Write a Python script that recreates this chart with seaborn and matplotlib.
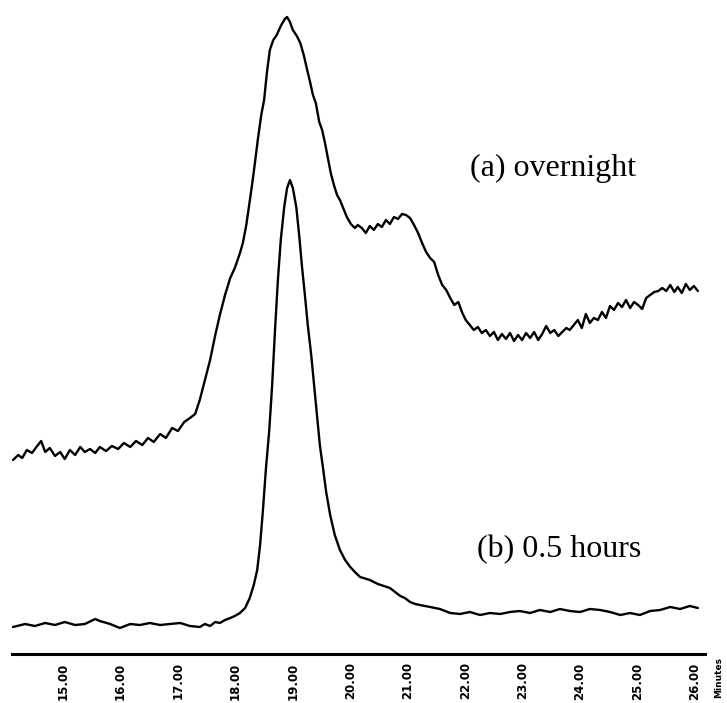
import numpy as np
import pandas as pd
import seaborn as sns
import matplotlib
matplotlib.use("Agg")
import matplotlib.pyplot as plt

# retention time (min) and detector signal (arbitrary units)
tiempo_a = [14.13, 14.22, 14.29, 14.37, 14.46, 14.55, 14.62, 14.69, 14.77, 14.86,
            14.95, 15.03, 15.12, 15.21, 15.30, 15.38, 15.47, 15.56, 15.64, 15.75,
            15.85, 15.96, 16.06, 16.17, 16.27, 16.38, 16.48, 16.58, 16.69, 16.79,
            16.90, 17.00, 17.11, 17.21, 17.30, 17.38, 17.47, 17.56, 17.65, 17.73,
            17.82, 17.91, 17.99, 18.08, 18.13, 18.19, 18.24, 18.29, 18.34, 18.39,
            18.45, 18.50, 18.55, 18.60, 18.66, 18.72, 18.79, 18.86, 18.90, 18.95,
            19.00, 19.07, 19.13, 19.19, 19.25, 19.30, 19.35, 19.40, 19.46, 19.51,
            19.56, 19.61, 19.66, 19.72, 19.77, 19.82, 19.89, 19.94, 20.01, 20.08,
            20.13, 20.20, 20.27, 20.34, 20.41, 20.48, 20.55, 20.62, 20.69, 20.76,
            20.83, 20.90, 20.97, 21.04, 21.11, 21.18, 21.25, 21.32, 21.39, 21.46,
            21.53, 21.60, 21.67, 21.74, 21.81, 21.88, 21.95, 22.01, 22.08, 22.15,
            22.22, 22.29, 22.36, 22.43, 22.50, 22.57, 22.64, 22.71, 22.78, 22.85,
            22.92, 22.99, 23.06, 23.13, 23.20, 23.27, 23.34, 23.41, 23.48, 23.55,
            23.62, 23.69, 23.76, 23.82, 23.89, 23.96, 24.03, 24.10, 24.17, 24.24,
            24.31, 24.38, 24.45, 24.52, 24.59, 24.66, 24.73, 24.80, 24.87, 24.94,
            25.01, 25.08, 25.15, 25.22, 25.29, 25.36, 25.43, 25.50, 25.57, 25.64,
            25.70, 25.77, 25.84, 25.91, 25.98, 26.05]
senal_a = [19.4, 19.9, 19.6, 20.4, 20.1, 20.8, 21.3, 20.2, 20.6, 19.8,
           20.2, 19.5, 20.4, 19.9, 20.7, 20.2, 20.5, 20.1, 20.7, 20.3,
           20.8, 20.5, 21.1, 20.7, 21.3, 20.9, 21.6, 21.2, 22.0, 21.6,
           22.6, 22.3, 23.2, 23.6, 24.0, 25.4, 27.4, 29.4, 31.9, 33.9,
           35.9, 37.6, 38.6, 40.1, 41.1, 42.9, 44.9, 46.9, 49.1, 51.4,
           53.9, 55.4, 58.2, 60.4, 61.4, 61.9, 62.8, 63.5, 63.7, 63.2,
           62.4, 61.8, 61.1, 59.9, 58.4, 57.2, 55.9, 55.1, 53.2, 52.4,
           51.1, 49.6, 48.1, 46.8, 45.9, 45.4, 44.4, 43.7, 43.0, 42.6,
           42.9, 42.6, 42.1, 42.8, 42.4, 43.0, 42.7, 43.4, 43.0, 43.7,
           43.5, 44.0, 43.9, 43.6, 42.9, 42.1, 41.1, 40.2, 39.6, 39.2,
           37.9, 36.9, 36.4, 35.6, 34.9, 35.2, 34.1, 33.4, 32.9, 32.4,
           32.7, 32.1, 32.4, 31.8, 32.2, 31.4, 32.0, 31.5, 32.1, 31.3,
           31.9, 31.4, 32.1, 31.6, 32.2, 31.4, 32.0, 32.8, 32.1, 32.4,
           31.8, 32.2, 32.6, 32.4, 32.9, 33.4, 32.6, 34.0, 33.1, 33.6,
           33.4, 34.2, 33.6, 34.8, 34.4, 35.1, 34.7, 35.4, 34.6, 35.2,
           34.9, 34.5, 35.6, 35.9, 36.2, 36.3, 36.6, 36.3, 36.9, 36.2,
           36.7, 36.1, 37.0, 36.4, 36.8, 36.3]

tiempo_b = [14.13, 14.34, 14.51, 14.69, 14.86, 15.03, 15.21, 15.38, 15.56, 15.64,
            15.82, 15.99, 16.17, 16.34, 16.51, 16.69, 16.86, 17.04, 17.21, 17.38,
            17.47, 17.56, 17.65, 17.73, 17.82, 17.91, 17.99, 18.08, 18.17, 18.25,
            18.32, 18.38, 18.43, 18.48, 18.53, 18.59, 18.64, 18.69, 18.74, 18.79,
            18.85, 18.90, 18.95, 19.00, 19.06, 19.11, 19.16, 19.21, 19.26, 19.32,
            19.37, 19.42, 19.47, 19.53, 19.58, 19.65, 19.73, 19.82, 19.91, 20.00,
            20.08, 20.17, 20.34, 20.48, 20.69, 20.78, 20.87, 20.95, 21.04, 21.13,
            21.21, 21.39, 21.56, 21.74, 21.91, 22.08, 22.26, 22.43, 22.61, 22.78,
            22.95, 23.13, 23.30, 23.48, 23.65, 23.82, 24.00, 24.17, 24.35, 24.52,
            24.70, 24.87, 25.04, 25.22, 25.39, 25.57, 25.74, 25.91, 26.05]
senal_b = [2.7, 3.0, 2.8, 3.1, 2.9, 3.2, 2.9, 3.0, 3.5, 3.3,
           3.0, 2.6, 3.0, 2.9, 3.1, 2.9, 3.0, 3.1, 2.8, 2.7,
           3.0, 2.8, 3.2, 3.1, 3.4, 3.6, 3.8, 4.1, 4.6, 5.6,
           6.9, 8.4, 10.9, 14.4, 18.4, 22.4, 26.9, 32.4, 37.4, 41.4,
           44.7, 46.6, 47.4, 46.6, 44.7, 41.9, 38.7, 35.9, 32.9, 29.9,
           26.9, 23.9, 20.9, 18.4, 16.2, 13.9, 11.9, 10.4, 9.4, 8.7,
           8.2, 7.7, 7.4, 7.0, 6.6, 6.2, 5.8, 5.6, 5.2, 5.0,
           4.9, 4.7, 4.5, 4.1, 4.0, 4.2, 3.9, 4.1, 4.0, 4.2,
           4.3, 4.1, 4.4, 4.2, 4.5, 4.3, 4.2, 4.5, 4.4, 4.2,
           3.9, 4.1, 3.9, 4.3, 4.4, 4.7, 4.5, 4.8, 4.6]

etiquetas = ["(a) overnight", "(b) 0.5 hours"]
ticks_min = [15, 16, 17, 18, 19, 20, 21, 22, 23, 24, 25, 26]

df = pd.concat([
    pd.DataFrame({"Minutes": tiempo_a, "Signal": senal_a, "muestra": etiquetas[0]}),
    pd.DataFrame({"Minutes": tiempo_b, "Signal": senal_b, "muestra": etiquetas[1]}),
])

sns.set_style("white")
fig = plt.figure(figsize=(7.27, 7.03), dpi=100)
ax = fig.add_axes([12 / 727, 49 / 703, 693 / 727, 654 / 703])

sns.lineplot(data=df, x="Minutes", y="Signal", units="muestra", estimator=None,
             color="black", linewidth=1.7, legend=False, ax=ax)

ax.set_xlim(14.112, 26.174)
ax.set_ylim(0, 65.4)
ax.set_xlabel("")
ax.set_ylabel("")
ax.set_yticks([])
ax.set_xticks(ticks_min)
ax.set_xticklabels([f"{t:.2f}" for t in ticks_min], rotation=90,
                   fontsize=8.5, fontweight="heavy", va="top", color="black")
ax.tick_params(axis="x", direction="out", length=3, width=1, pad=3, color="black")
for lado in ["top", "left", "right"]:
    ax.spines[lado].set_visible(False)
ax.spines["bottom"].set_linewidth(2.2)
ax.spines["bottom"].set_color("black")

ax.text(23.53, 48.6, etiquetas[0], family="Liberation Serif", fontsize=23,
        ha="center", va="center", color="black")
ax.text(23.63, 10.4, etiquetas[1], family="Liberation Serif", fontsize=23,
        ha="center", va="center", color="black")

fig.text(719 / 727, 46 / 703, "Minutes", rotation=90, fontsize=6.5,
         fontweight="heavy", ha="center", va="top", color="black")

fig.savefig("out.png", dpi=100)
